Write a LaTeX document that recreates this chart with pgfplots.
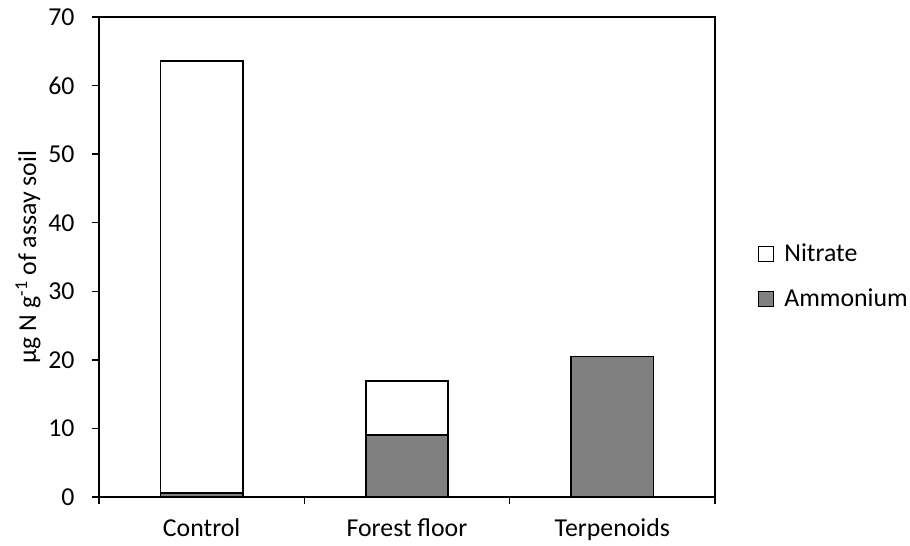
\documentclass[border=0pt]{standalone}
\usepackage{fontspec}
\setmainfont{Carlito}
\usepackage{pgfplots}
\pgfplotsset{compat=1.18}
\definecolor{amm}{RGB}{128,128,128}
\newcommand{\cf}{\fontsize{25.8bp}{31bp}\selectfont}
\begin{document}
\begin{tikzpicture}
\path[use as bounding box] (0,0) rectangle (910bp,-546bp);
\begin{axis}[
  at={(99bp,-497bp)}, anchor=south west,
  scale only axis, width=616bp, height=480bp,
  ybar stacked, bar width=0.4,
  xmin=0.5, xmax=3.5, ymin=0, ymax=70,
  ytick={0,10,...,70},
  xtick={1,2,3}, xticklabels={Control,Forest floor,Terpenoids},
  minor xtick={0.5,1.5,2.5,3.5},
  tick pos=left, tick align=outside,
  major tick length=7bp, minor tick length=7bp,
  major x tick style={draw=none},
  every tick/.style={black, line width=1.3bp},
  axis line style={line width=1.5bp},
  /pgf/number format/assume math mode=true,
  tick label style={font=\cf},
  yticklabel style={xshift=-14bp},
  xticklabel style={yshift=-11bp},
  ylabel={µg N g\textsuperscript{-1} of assay soil},
  ylabel style={font=\cf, at={(axis description cs:-0.1153,0.5)}, anchor=center},
  reverse legend,
  legend style={at={(rel axis cs:1,0.5)}, anchor=west, xshift=40bp, yshift=-21bp,
    draw=none, fill=none, font=\cf, row sep=21bp,
    nodes={inner sep=0pt, text height=18bp, text depth=6bp, anchor=west}},
  legend cell align=left,
  sq legend/.style={legend image code/.code={\draw[##1, line width=1.2bp] (0bp,-6bp) rectangle (15bp,9bp);}},
]
\addplot[fill=amm, draw=black, line width=1.7bp, sq legend] coordinates {(1,0.6) (2,9.0) (3,20.5)};
\addlegendentry{\hspace{10bp}Ammonium}
\addplot[fill=white, draw=black, line width=1.7bp, sq legend] coordinates {(1,63.0) (2,7.9)};
\addlegendentry{\hspace{10bp}Nitrate}
\end{axis}
\end{tikzpicture}
\end{document}
